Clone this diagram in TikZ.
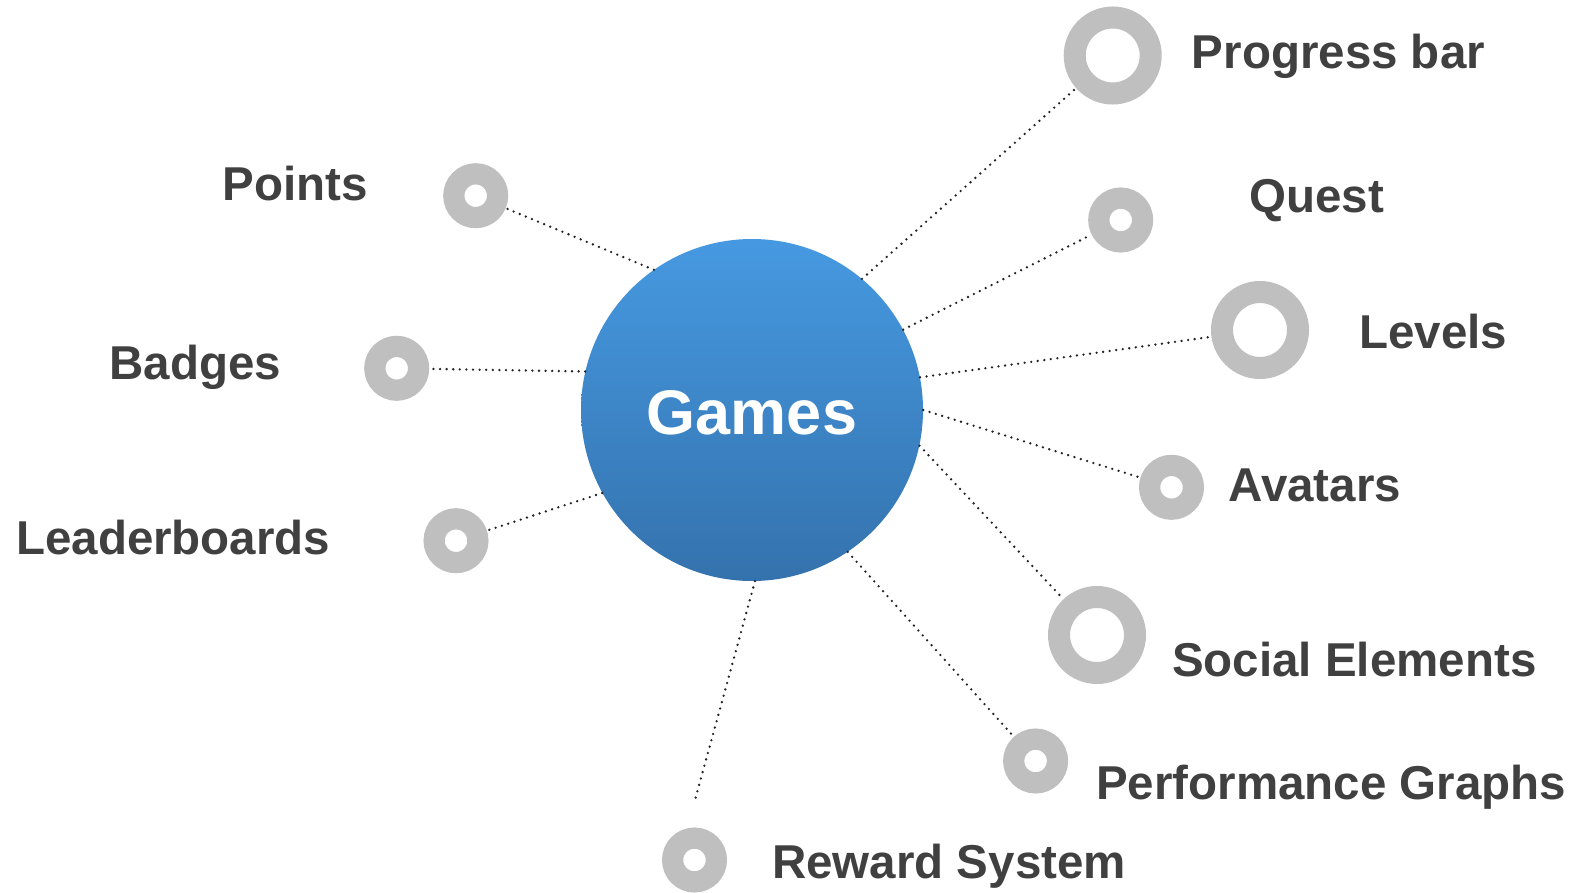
\documentclass[tikz,border=0pt]{standalone}
\usepackage{fontspec}
\setmainfont{Liberation Sans}
\definecolor{ringgray}{HTML}{BFBFBF}
\definecolor{labelgray}{HTML}{404040}
\definecolor{dotgray}{HTML}{222222}
\definecolor{hubtop}{HTML}{4699E1}
\definecolor{hubbottom}{HTML}{3472AD}
\begin{document}
\begin{tikzpicture}[x=1pt,y=-1pt,
  hub/.style={circle, minimum size=342pt, inner sep=0pt, top color=hubtop, bottom color=hubbottom,
              text=white, text height=49pt, text depth=0pt, font=\fontsize{63}{66}\selectfont\bfseries},
  smallring/.style={circle, draw=ringgray, fill=white, line width=21.2pt, minimum size=43.8pt,
                    inner sep=0pt, outer sep=10.6pt},
  bigring/.style={circle, draw=ringgray, fill=white, line width=22pt, minimum size=76pt,
                  inner sep=0pt, outer sep=11pt},
  lbl/.style={anchor=base west, inner sep=0pt, text=labelgray,
              font=\fontsize{47.5}{50}\selectfont\bfseries},
  dotline/.style={draw=dotgray, line width=2.6pt, line cap=round, dash pattern=on 0pt off 6.6pt}
]
\useasboundingbox (0,0) rectangle (1578,893);

% central hub
\node[hub] (g) at (752,410) {Games};

% rings
\node[smallring] (points) at (475.7,195.7) {};
\node[smallring] (badges) at (396.7,368.3) {};
\node[smallring] (leader) at (456,540.7) {};
\node[bigring]   (progress) at (1112.7,55.5) {};
\node[smallring] (quest) at (1120.7,220) {};
\node[bigring]   (levels) at (1260,330) {};
\node[smallring] (avatars) at (1171.5,487.3) {};
\node[bigring]   (social) at (1097,635) {};
\node[smallring] (perf) at (1035.6,761) {};
\node[smallring] (reward) at (694.5,860) {};
\coordinate (rewardend) at (695,800);

% labels
\node[lbl] (tpoints) at (222.7,201) {Points};
\node[lbl] (tbadges) at (109.3,379.3) {Badges};
\node[lbl] (tleader) at (16,554.3) {Leaderboards};
\node[lbl] (tprogress) at (1191.7,68.3) {Progress bar};
\node[lbl] (tquest) at (1249.3,212.3) {Quest};
\node[lbl] (tlevels) at (1359.3,348.3) {Levels};
\node[lbl] (tavatars) at (1228.3,501.7) {Avatars};
\node[lbl] (tsocial) at (1172,676) {Social Elements};
\node[lbl] (tperf) at (1096,799.3) {Performance Graphs};
\node[lbl] (treward) at (772,878.5) {Reward System};

% dotted connectors
\draw[dotline] (g.125.9) -- (points);
\draw[dotline] (g.167) -- (badges);
\draw[dotline] (g.209.5) -- (leader);
\draw[dotline] (g.50.1) -- (progress);
\draw[dotline] (g.28.6) -- (quest);
\draw[dotline] (g.11.6) -- (levels);
\draw[dotline] (g.0) -- (avatars);
\draw[dotline] (g.-12.4) -- (social);
\draw[dotline] (g.-56.3) -- (perf);
\draw[dotline] (g.-89.1) -- (rewardend);
\end{tikzpicture}
\end{document}
